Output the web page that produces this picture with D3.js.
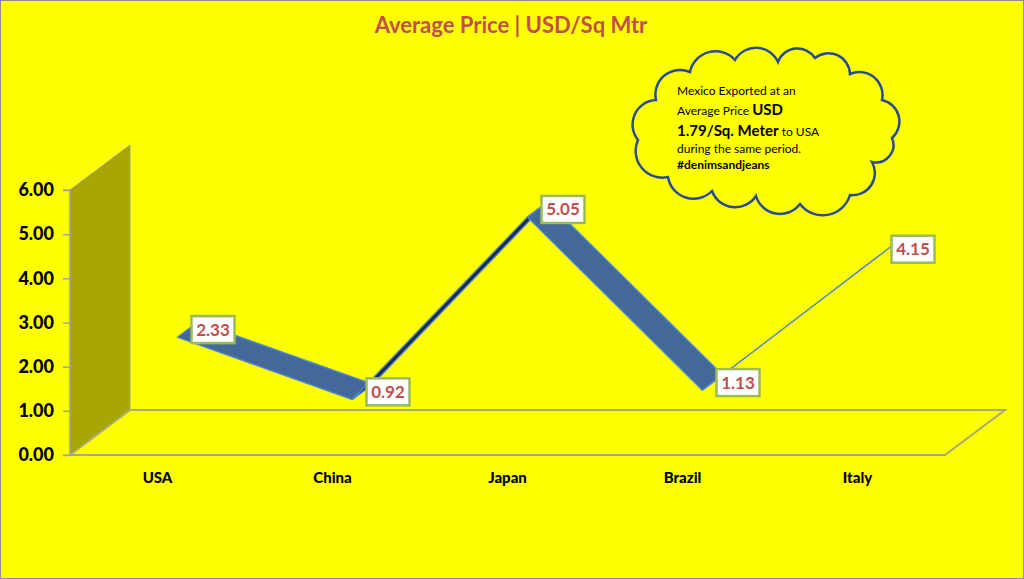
<!DOCTYPE html>
<html><head><meta charset="utf-8">
<script src="https://cdn.jsdelivr.net/npm/d3@7"></script>
<style>html,body{margin:0;padding:0;background:#fff}svg{display:block}</style>
</head><body>
<script>
const categories = ["USA", "China", "Japan", "Brazil", "Italy"];
const values = [2.33, 0.92, 5.05, 1.13, 4.15];
const yTicks = [0, 1, 2, 3, 4, 5, 6];
const titleText = "Average Price | USD/Sq Mtr";
const noteLines = [
  [{t:"Mexico Exported at an", b:false}],
  [{t:"Average Price ", b:false}, {t:"USD", b:true}],
  [{t:"1.79/Sq. Meter", b:true}, {t:" to USA", b:false}],
  [{t:"during the same period.", b:false}],
  [{t:"#denimsandjeans", b:true}]
];

const W = 1024, H = 579;
const svg = d3.select("body").append("svg").attr("width", W).attr("height", H);
const FONT = "Lato, 'Open Sans', sans-serif";

svg.append("rect").attr("x",0.5).attr("y",0.5).attr("width",W-1).attr("height",H-1)
  .attr("fill","#FFFF00").attr("stroke","#8C8C8C").attr("stroke-width",1);

// plot geometry
const x0 = 70, x1 = 945, yBottom = 455, yTop = 190;
const DX = 60, DY = -45;  // full depth offset
const x = d3.scaleBand().domain(categories).range([x0, x1]);
const xc = c => x(c) + x.bandwidth()/2;
const y = d3.scaleLinear().domain([0, 6]).range([yBottom, yTop]);
const P = (i, f) => [xc(categories[i]) + DX*f, y(values[i]) + DY*f];

// back wall
svg.append("path")
  .attr("d", d3.line()([[x0, y(0)], [x0, y(6)], [x0+DX, y(6)+DY], [x0+DX, y(0)+DY]]) + "Z")
  .attr("fill", "#A8A600").attr("stroke", "#A0A0A0").attr("stroke-width", 1);

// floor
svg.append("path")
  .attr("d", d3.line()([[x0, y(0)], [x1, y(0)], [x1+DX, y(0)+DY], [x0+DX, y(0)+DY]]) + "Z")
  .attr("fill", "none").attr("stroke", "#A8A878").attr("stroke-width", 2);

// y axis
const yAxis = d3.axisLeft(y).tickValues(yTicks).tickFormat(d3.format(".2f")).tickSize(7).tickPadding(9);
const ga = svg.append("g").attr("transform", `translate(${x0},0)`).call(yAxis);
ga.select(".domain").attr("stroke", "#A0A0A0").attr("d", `M-7,${y(0)}H0V${y(6)}H-7`);
ga.selectAll(".tick line").attr("stroke", "#A0A0A0").attr("stroke-width", 1.5);
ga.selectAll(".tick text").attr("font-family", FONT).attr("font-weight", "900")
  .attr("font-size", 18).attr("fill", "#000");

// x labels
svg.append("g").selectAll("text").data(categories).join("text")
  .attr("x", d => xc(d)).attr("y", 483).attr("text-anchor", "middle")
  .attr("font-family", FONT).attr("font-weight", "900").attr("font-size", 15).attr("fill", "#000")
  .text(d => d);

// ribbon
const f1 = 0.33, f2 = 0.67;
const segs = d3.range(values.length - 1).map(i => {
  const A = P(i, f1), B = P(i+1, f1), C = P(i+1, f2), D = P(i, f2);
  const cross = (B[0]-A[0])*(D[1]-A[1]) - (B[1]-A[1])*(D[0]-A[0]);
  return {pts: [A, B, C, D], under: cross > 0};
});
svg.append("g").selectAll("path").data(segs).join("path")
  .attr("d", d => d3.line()(d.pts) + "Z")
  .attr("fill", d => d.under ? "#1D2C46" : "#43699B")
  .attr("stroke", "#5289D2").attr("stroke-width", 1.3).attr("stroke-linejoin", "round");

// data labels
const lbl = svg.append("g").selectAll("g").data(values).join("g")
  .attr("transform", (d, i) => { const p = P(i, 0.5); return `translate(${p[0]+4},${p[1]})`; });
lbl.append("rect").attr("x", 0).attr("y", -13.5).attr("width", 43).attr("height", 27)
  .attr("fill", "#fff").attr("stroke", "#9BBB59").attr("stroke-width", 2.5);
lbl.append("text").attr("x", 21.5).attr("y", 6).attr("text-anchor", "middle")
  .attr("font-family", FONT).attr("font-weight", "bold").attr("font-size", 17).attr("fill", "#C0504D")
  .text(d => d.toFixed(2));

// title
svg.append("text").attr("x", 511).attr("y", 33).attr("text-anchor", "middle")
  .attr("font-family", FONT).attr("font-weight", "bold").attr("font-size", 22).attr("fill", "#C0504D")
  .text(titleText);

// cloud callout
const cloudPts = [[638,140],[656,100],[690,72],[735,60],[778,62],[815,58],[850,74],[882,100],[892,138],[872,162],[850,195],[800,204],[756,196],[712,191],[668,177]];
let cd = `M${cloudPts[0][0]},${cloudPts[0][1]}`;
for (let i = 0; i < cloudPts.length; i++) {
  const a = cloudPts[i], b = cloudPts[(i+1) % cloudPts.length];
  const r = Math.hypot(b[0]-a[0], b[1]-a[1]) * 0.56;
  cd += `A${r},${r} 0 0 1 ${b[0]},${b[1]}`;
}
svg.append("path").attr("d", cd + "Z").attr("fill", "#FFFF00")
  .attr("stroke", "#284C8F").attr("stroke-width", 2.5);

const lineY = [95, 115, 136, 153, 169];
noteLines.forEach((ln, i) => {
  const t = svg.append("text").attr("x", 677).attr("y", lineY[i]).attr("font-family", FONT).attr("fill", "#000");
  ln.forEach(s => {
    const big = s.b && i < 3;
    t.append("tspan").attr("font-weight", s.b ? "bold" : "normal")
      .attr("font-size", big ? 15 : 12).text(s.t);
  });
});
</script>
</body></html>
